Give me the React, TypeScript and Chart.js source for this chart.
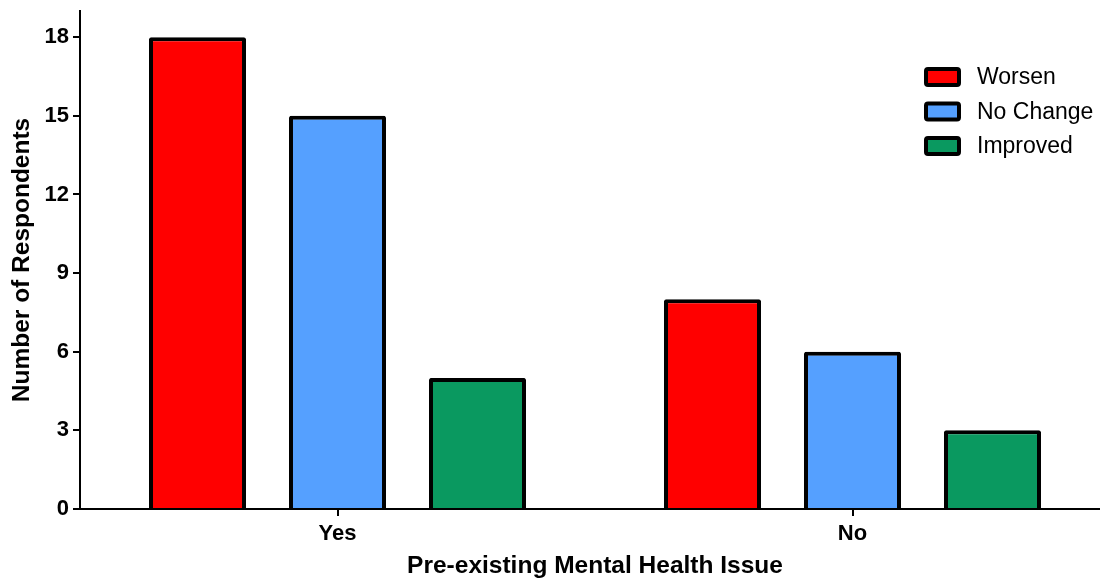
import React, { useEffect, useRef } from "react";
import { Chart, registerables } from "chart.js";

Chart.register(...registerables);

const categories = ["Yes", "No"];
const seriesNames = ["Worsen", "No Change", "Improved"];
const worsen = [18, 8];
const noChange = [15, 6];
const improved = [5, 3];
const seriesColors = ["#FF0000", "#55A0FF", "#0A9960"];
const yTickValues = [0, 3, 6, 9, 12, 15, 18];
const yMax = 19;
const xTitle = "Pre-existing Mental Health Issue";
const yTitle = "Number of Respondents";

const FONT = "'Liberation Sans', Arial, Helvetica, sans-serif";

const legendPlugin = {
  id: "customLegend",
  afterDraw(chart: any) {
    const ctx = chart.ctx as CanvasRenderingContext2D;
    const boxX = 924;
    const boxY = 67;
    const boxW = 37;
    const boxH = 20;
    const step = 34.5;
    ctx.save();
    chart.data.datasets.forEach((ds: any, i: number) => {
      const y = boxY + i * step;
      ctx.beginPath();
      (ctx as any).roundRect(boxX + 2, y + 2, boxW - 4, boxH - 4, 2);
      ctx.fillStyle = ds.backgroundColor;
      ctx.fill();
      ctx.lineWidth = 4;
      ctx.strokeStyle = "#000";
      ctx.stroke();
      ctx.fillStyle = "#000";
      ctx.font = `23px ${FONT}`;
      ctx.textBaseline = "middle";
      ctx.textAlign = "left";
      ctx.fillText(ds.label, 977, y + boxH / 2 + 1);
    });
    ctx.restore();
  },
};

export default function App() {
  const canvasRef = useRef<HTMLCanvasElement | null>(null);

  useEffect(() => {
    if (!canvasRef.current) return;
    const values = [worsen, noChange, improved];
    const chart = new Chart(canvasRef.current, {
      type: "bar",
      data: {
        labels: categories,
        datasets: seriesNames.map((name, i) => ({
          label: name,
          data: values[i],
          backgroundColor: seriesColors[i],
          borderColor: "#000",
          borderWidth: 4,
          borderRadius: 2,
          barPercentage: 0.693,
          categoryPercentage: 0.8155,
        })),
      },
      options: {
        animation: false,
        responsive: true,
        maintainAspectRatio: false,
        layout: { padding: { top: 11, right: 10, left: 0, bottom: 0 } },
        plugins: {
          legend: { display: false },
          tooltip: { enabled: false },
        },
        scales: {
          x: {
            grid: {
              display: true,
              drawOnChartArea: false,
              drawTicks: true,
              offset: false,
              tickLength: 7,
              lineWidth: 2,
              color: "#000",
            },
            border: { display: true, color: "#000", width: 2 },
            ticks: {
              color: "#000",
              font: { family: FONT, size: 22, weight: "bold" },
              padding: 5,
            },
            title: {
              display: true,
              text: xTitle,
              color: "#000",
              font: { family: FONT, size: 24.5, weight: "bold" },
              padding: { top: 0, bottom: 0 },
            },
            afterFit(scale: any) {
              scale.height = 72;
              scale.paddingLeft = 0;
              scale.paddingRight = 0;
            },
          },
          y: {
            min: 0,
            max: yMax,
            grid: {
              display: true,
              drawOnChartArea: false,
              drawTicks: true,
              tickLength: 7,
              lineWidth: 2,
              color: "#000",
            },
            border: { display: true, color: "#000", width: 2 },
            ticks: {
              stepSize: 3,
              includeBounds: false,
              color: "#000",
              font: { family: FONT, size: 22, weight: "bold" },
              padding: 4,
            },
            afterBuildTicks(scale: any) {
              scale.ticks = yTickValues.map((v) => ({ value: v }));
            },
            title: {
              display: true,
              text: yTitle,
              color: "#000",
              font: { family: FONT, size: 24.5, weight: "bold" },
              padding: { top: 8, bottom: 0 },
            },
            afterFit(scale: any) {
              scale.width = 80;
              scale.paddingTop = 0;
              scale.paddingBottom = 0;
            },
          },
        },
      },
      plugins: [legendPlugin],
    });
    return () => chart.destroy();
  }, []);

  return (
    <div
      style={{
        position: "fixed",
        left: 0,
        top: 0,
        width: 1100,
        height: 581,
        overflow: "hidden",
        background: "#fff",
      }}
    >
      <div style={{ position: "relative", width: 1120, height: 581 }}>
        <canvas ref={canvasRef} />
      </div>
    </div>
  );
}
